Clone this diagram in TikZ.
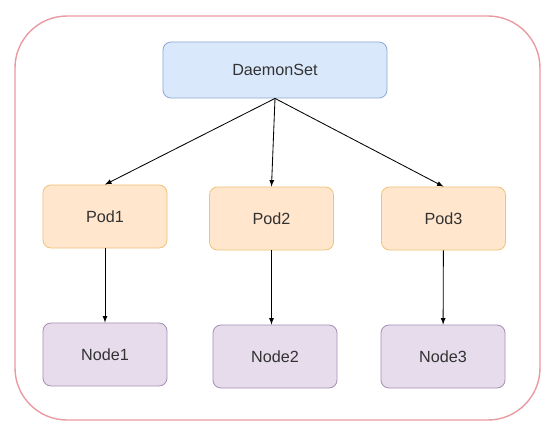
\documentclass[tikz,border=0pt]{standalone}
\usepackage{fontspec}
\setmainfont{Liberation Sans}
\usetikzlibrary{shapes,positioning,arrows,calc}

\definecolor{dsfill}{HTML}{DAE8FC}
\definecolor{dsline}{HTML}{8FA9D4}
\definecolor{podfill}{HTML}{FFE6CC}
\definecolor{podline}{HTML}{F0C37A}
\definecolor{nodefill}{HTML}{E6DCEC}
\definecolor{nodeline}{HTML}{A890B4}
\definecolor{frameline}{HTML}{EB9AA2}
\definecolor{txt}{HTML}{333333}

\tikzset{
	box/.style={draw, rounded corners=0.2cm, line width=0.6pt,
		text=txt, font=\fontsize{11.5}{13}\selectfont, inner sep=0pt},
	dsbox/.style={box, fill=dsfill, draw=dsline, minimum width=5.6cm, minimum height=1.4cm},
	podbox/.style={box, fill=podfill, draw=podline, minimum width=3.1cm, minimum height=1.575cm},
	hostbox/.style={box, fill=nodefill, draw=nodeline, minimum width=3.1cm, minimum height=1.575cm},
	link/.style={-latex, line width=0.6pt, black}
}

\begin{document}
\begin{tikzpicture}[x=0.025cm, y=-0.025cm]
		\useasboundingbox (0,0) rectangle (548,436);
		% frame
		\draw[frameline, line width=1pt, rounded corners=1.3cm] (15,16) rectangle (540,420);

		\node[dsbox] (ds) at (275,70) {DaemonSet};

		\node[podbox] (pod1) at (105,216.5) {Pod1};
		\node[podbox] (pod2) at (271.5,218.5) {Pod2};
		\node[podbox] (pod3) at (443.5,218.5) {Pod3};

		\node[hostbox] (node1) at (105,354.5) {Node1};
		\node[hostbox] (node2) at (275,356.5) {Node2};
		\node[hostbox] (node3) at (443,356.5) {Node3};

		\draw[link] (ds.south) -- (pod1.north);
		\draw[link] (ds.south) -- (pod2.north);
		\draw[link] (ds.south) -- (pod3.north);

		\draw[link] (pod1) -- (node1);
		\draw[link] (pod2.south) -- (pod2.south |- node2.north);
		\draw[link] (pod3) -- (node3);
	\end{tikzpicture}
\end{document}
